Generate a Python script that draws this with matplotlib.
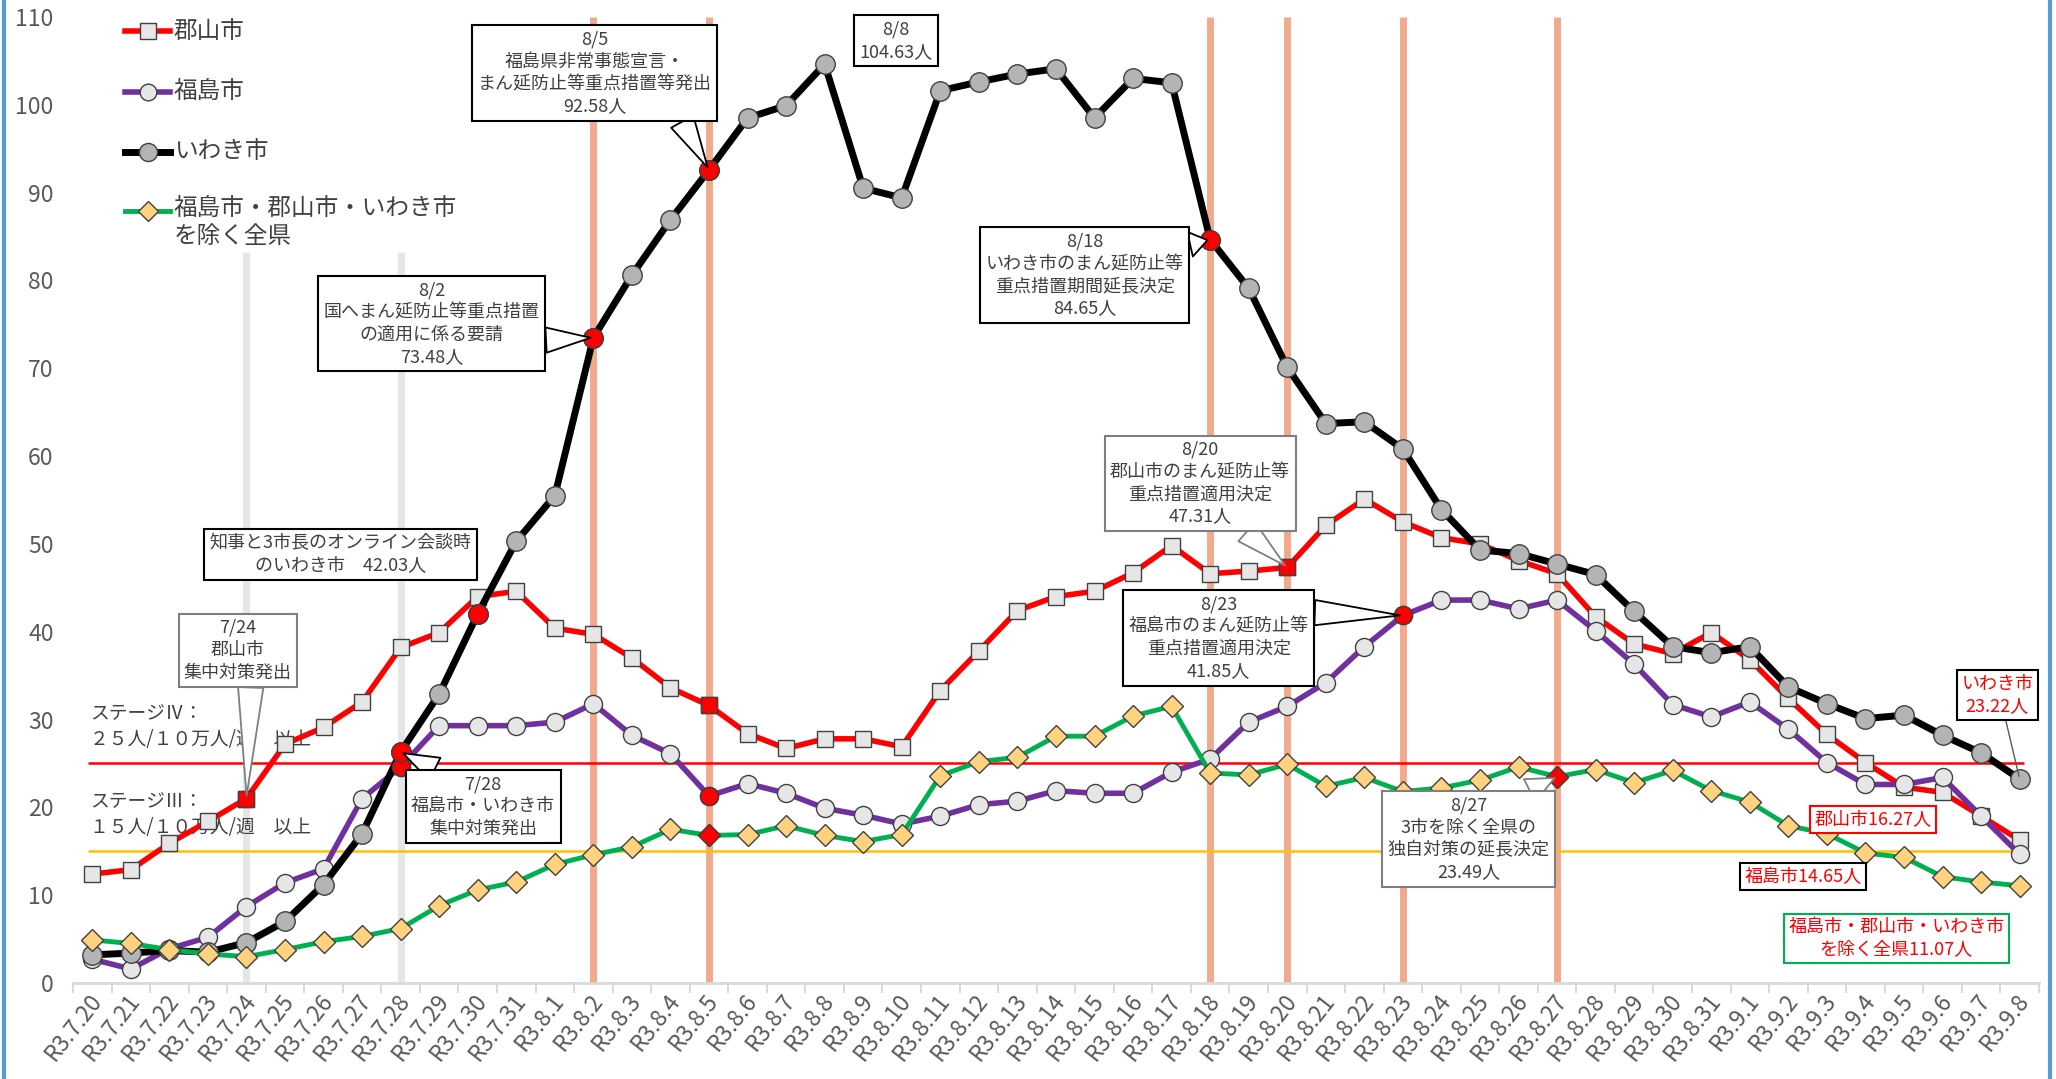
import matplotlib.pyplot as plt
import matplotlib.transforms as mtransforms
from matplotlib.lines import Line2D

plt.rcParams['font.family'] = ['Noto Sans CJK JP', 'DejaVu Sans']

# dates (category axis)
dates = ['R3.7.20', 'R3.7.21', 'R3.7.22', 'R3.7.23', 'R3.7.24', 'R3.7.25', 'R3.7.26',
         'R3.7.27', 'R3.7.28', 'R3.7.29', 'R3.7.30', 'R3.7.31',
         'R3.8.1', 'R3.8.2', 'R3.8.3', 'R3.8.4', 'R3.8.5', 'R3.8.6', 'R3.8.7', 'R3.8.8',
         'R3.8.9', 'R3.8.10', 'R3.8.11', 'R3.8.12', 'R3.8.13', 'R3.8.14', 'R3.8.15',
         'R3.8.16', 'R3.8.17', 'R3.8.18', 'R3.8.19', 'R3.8.20', 'R3.8.21', 'R3.8.22',
         'R3.8.23', 'R3.8.24', 'R3.8.25', 'R3.8.26', 'R3.8.27', 'R3.8.28', 'R3.8.29',
         'R3.8.30', 'R3.8.31',
         'R3.9.1', 'R3.9.2', 'R3.9.3', 'R3.9.4', 'R3.9.5', 'R3.9.6', 'R3.9.7', 'R3.9.8']

# new cases per 100k per week
koriyama = [12.4, 12.9, 15.9, 18.4, 21.0, 27.2, 29.1, 32.0, 38.2, 39.9, 44.0, 44.6,
            40.4, 39.7, 37.0, 33.6, 31.6, 28.4, 26.7, 27.8, 27.8, 26.9,
            33.3, 37.8, 42.4, 44.0, 44.6, 46.7, 49.8, 46.6, 46.9, 47.31,
            52.1, 55.1, 52.5, 50.7, 50.0, 48.1, 46.6, 41.7, 38.6, 37.5, 39.9,
            36.8, 32.4, 28.3, 25.1, 22.3, 21.7, 19.0, 16.27]
fukushima = [2.7, 1.6, 3.9, 5.2, 8.7, 11.4, 13.0, 21.0, 24.6, 29.3, 29.3, 29.3,
             29.7, 31.8, 28.2, 26.1, 21.3, 22.7, 21.6, 19.9, 19.1, 18.1,
             19.0, 20.3, 20.7, 21.9, 21.6, 21.6, 24.0, 25.5, 29.7, 31.5,
             34.2, 38.3, 41.85, 43.6, 43.6, 42.6, 43.6, 40.1, 36.3, 31.7, 30.3,
             32.0, 28.9, 25.1, 22.6, 22.6, 23.4, 19.0, 14.65]
iwaki = [3.2, 3.4, 3.7, 3.5, 4.6, 7.0, 11.2, 17.0, 26.3, 32.9, 42.03, 50.3,
         55.5, 73.48, 80.6, 86.9, 92.58, 98.5, 99.9, 104.63, 90.5, 89.4,
         101.6, 102.6, 103.5, 104.1, 98.5, 103.0, 102.5, 84.65, 79.1, 70.1,
         63.7, 63.9, 60.8, 53.9, 49.3, 48.9, 47.7, 46.5, 42.3, 38.3, 37.6,
         38.3, 33.7, 31.8, 30.1, 30.5, 28.2, 26.2, 23.22]
others = [4.9, 4.5, 3.8, 3.3, 3.0, 3.8, 4.7, 5.3, 6.2, 8.8, 10.6, 11.5,
          13.5, 14.6, 15.5, 17.5, 16.8, 16.9, 17.9, 16.8, 16.1, 16.9,
          23.6, 25.2, 25.7, 28.1, 28.1, 30.4, 31.5, 23.9, 23.7, 24.9,
          22.4, 23.4, 21.8, 22.2, 23.1, 24.6, 23.49, 24.3, 22.8, 24.2, 21.9,
          20.6, 17.9, 17.0, 14.8, 14.3, 12.1, 11.5, 11.07]

labels = ['郡山市', '福島市', 'いわき市', '福島市・郡山市・いわき市\nを除く全県']
series = [koriyama, fukushima, iwaki, others]

# points shown in red (event days)
red_points = [['R3.7.24', 'R3.8.5', 'R3.8.20'],
              ['R3.7.28', 'R3.8.5', 'R3.8.23'],
              ['R3.7.28', 'R3.7.30', 'R3.8.2', 'R3.8.5', 'R3.8.18'],
              ['R3.8.5', 'R3.8.27']]

event_dates = ['R3.8.2', 'R3.8.5', 'R3.8.18', 'R3.8.20', 'R3.8.23', 'R3.8.27']
gray_dates = ['R3.7.24', 'R3.7.28']
stage4 = 25
stage3 = 15

styles = [
    dict(color='#FF0000', lw=4.0, marker='s', ms=12, mfc='#E6E6E6'),
    dict(color='#7030A0', lw=4.0, marker='o', ms=13, mfc='#E6E6E6'),
    dict(color='#000000', lw=5.0, marker='o', ms=14, mfc='#B4B4B4'),
    dict(color='#00B050', lw=3.5, marker='D', ms=11, mfc='#FFD280'),
]

x = list(range(len(dates)))

fig = plt.figure(figsize=(20.56, 10.79), dpi=100)
ax = fig.add_axes([0.0355, 0.089, 0.9562, 0.8953])

# event lines
for d in event_dates:
    ax.vlines(dates.index(d), 0, 110, color='#F2AA8C', lw=5, zorder=1)
for d in gray_dates:
    ax.vlines(dates.index(d), 0, 83.2, color='#E6E6E6', lw=5, zorder=1)

ax.hlines(stage4, -0.1, 50.1, color='#FF0000', lw=1.8, zorder=1.5)
ax.hlines(stage3, -0.1, 50.1, color='#FFC000', lw=1.8, zorder=1.5)

for i, (vals, st) in enumerate(zip(series, styles)):
    ax.plot(x, vals, color=st['color'], lw=st['lw'], marker=st['marker'],
            ms=st['ms'], mfc=st['mfc'], mec='#404040', mew=1.0, zorder=3 + i)
for i, (vals, st) in enumerate(zip(series, styles)):
    idx = [dates.index(d) for d in red_points[i]]
    ax.plot(idx, [vals[j] for j in idx], ls='none', marker=st['marker'],
            ms=st['ms'], mfc='#FF0000', mec='#404040', mew=1.0, zorder=8)

# axes
ax.set_xlim(-0.5, len(dates) - 0.5)
ax.set_ylim(0, 110)
for s in ['top', 'right', 'left']:
    ax.spines[s].set_visible(False)
ax.spines['bottom'].set_color('#D9D9D9')
ax.spines['bottom'].set_linewidth(2)

ax.set_yticks(range(0, 111, 10))
ax.tick_params(axis='y', length=0, pad=14, labelsize=16.5, labelcolor='#595959')

ax.set_xticks([i - 0.5 for i in range(len(dates) + 1)])
ax.set_xticklabels([])
ax.tick_params(axis='x', which='major', length=7, width=1.5, color='#D9D9D9')
ax.set_xticks(x, minor=True)
ax.set_xticklabels(dates, minor=True)
ax.tick_params(axis='x', which='minor', length=0, pad=10, labelsize=16.5,
               labelcolor='#595959', labelrotation=52)
shift = mtransforms.ScaledTranslation(5 / 100, 0, fig.dpi_scale_trans)
for lab in ax.get_xticklabels(minor=True):
    lab.set_ha('right')
    lab.set_va('center')
    lab.set_rotation_mode('anchor')
    lab.set_transform(lab.get_transform() + shift)

# legend drawn by hand to keep the wide row spacing
rows = [0.9855, 0.9224, 0.8602, 0.7992]
for lab, st, yy in zip(labels, styles, rows):
    ax.add_line(Line2D([0.0265, 0.038, 0.0493], [yy, yy, yy], transform=ax.transAxes,
                       color=st['color'], lw=st['lw'], marker=st['marker'], markevery=[1],
                       ms=st['ms'] - 1, mfc=st['mfc'], mec='#404040', mew=1.0,
                       clip_on=False, zorder=9))
    ax.text(0.0514, yy + (0.014 if '\n' in lab else 0), lab, transform=ax.transAxes,
            ha='left', va='top' if '\n' in lab else 'center', fontsize=17,
            color='#404040', linespacing=1.25)

# stage labels
ax.text(-0.05, 29.2, 'ステージⅣ：\n２５人/１０万人/週　以上', fontsize=13.5,
        color='#404040', va='center', ha='left', linespacing=1.3, zorder=2)
ax.text(-0.05, 19.2, 'ステージⅢ：\n１５人/１０万人/週　以上', fontsize=13.5,
        color='#404040', va='center', ha='left', linespacing=1.3, zorder=2)

# callouts: text, series index, date, box centre, pointer root, edge colour, pointer style
notes = [
    ('8/5\n福島県非常事態宣言・\nまん延防止等重点措置等発出\n92.58人', 2, 'R3.8.5',
     (13.03, 103.6), (0.86, 0), 'black', 'wedge'),
    ('8/8\n104.63人', 2, 'R3.8.8', (20.85, 107.3), None, 'black', None),
    ('8/2\n国へまん延防止等重点措置\nの適用に係る要請\n73.48人', 2, 'R3.8.2',
     (8.81, 75.1), (1, 0.3), 'black', 'wedge'),
    ('8/18\nいわき市のまん延防止等\n重点措置期間延長決定\n84.65人', 2, 'R3.8.18',
     (25.75, 80.6), (1, 0.85), 'black', 'wedge'),
    ('知事と3市長のオンライン会談時\nのいわき市　42.03人', 2, 'R3.7.30',
     (6.43, 48.8), None, 'black', None),
    ('7/24\n郡山市\n集中対策発出', 0, 'R3.7.24', (3.78, 37.9), (0.62, 0), '#7F7F7F', 'wedge'),
    ('7/28\n福島市・いわき市\n集中対策発出', 2, 'R3.7.28', (10.14, 20.1), (0.25, 1),
     'black', 'wedge'),
    ('8/20\n郡山市のまん延防止等\n重点措置適用決定\n47.31人', 0, 'R3.8.20',
     (28.74, 56.9), (0.72, 0), '#7F7F7F', 'wedge'),
    ('8/23\n福島市のまん延防止等\n重点措置適用決定\n41.85人', 1, 'R3.8.23',
     (29.22, 39.3), (1, 0.8), 'black', 'wedge'),
    ('8/27\n3市を除く全県の\n独自対策の延長決定\n23.49人', 3, 'R3.8.27',
     (35.71, 16.4), (0.8, 1), '#7F7F7F', 'wedge'),
]
for text, si, d, box, rel, ec, style in notes:
    j = dates.index(d)
    props = None
    if style == 'wedge':
        props = dict(arrowstyle='wedge,tail_width=1.4,shrink_factor=0.5', fc='white',
                     ec=ec, lw=1.3, relpos=rel, shrinkA=0, shrinkB=2)
    ax.annotate(text, xy=(j, series[si][j]), xytext=box, textcoords='data',
                ha='center', va='center', fontsize=13, color='#404040',
                linespacing=1.3, zorder=10, annotation_clip=False,
                bbox=dict(boxstyle='square,pad=0.3', fc='white', ec=ec, lw=1.5),
                arrowprops=props)

# end-of-series labels
ends = [
    ('いわき市\n23.22人', 2, (49.42, 32.8), 'black', True),
    ('郡山市16.27人', 0, (46.19, 18.66), '#FF0000', False),
    ('福島市14.65人', 1, (44.39, 12.1), 'black', False),
    ('福島市・郡山市・いわき市\nを除く全県11.07人', 3, (46.8, 5.07), '#00B050', False),
]
for text, si, box, ec, pointer in ends:
    props = None
    if pointer:
        props = dict(arrowstyle='-', color='#595959', lw=1.0, relpos=(0.6, 0),
                     shrinkA=0, shrinkB=2)
    ax.annotate(text, xy=(len(dates) - 1, series[si][-1]), xytext=box, textcoords='data',
                ha='center', va='center', fontsize=13, color='#FF0000',
                linespacing=1.3, zorder=10, annotation_clip=False,
                bbox=dict(boxstyle='square,pad=0.25', fc='white', ec=ec, lw=1.5),
                arrowprops=props)

# blue frame at the sides
fig.add_artist(Line2D([0.002, 0.002], [0, 1], transform=fig.transFigure, color='#5B9BD5', lw=3))
fig.add_artist(Line2D([0.997, 0.997], [0, 1], transform=fig.transFigure, color='#5B9BD5', lw=3))

fig.savefig('out.png', dpi=100)
